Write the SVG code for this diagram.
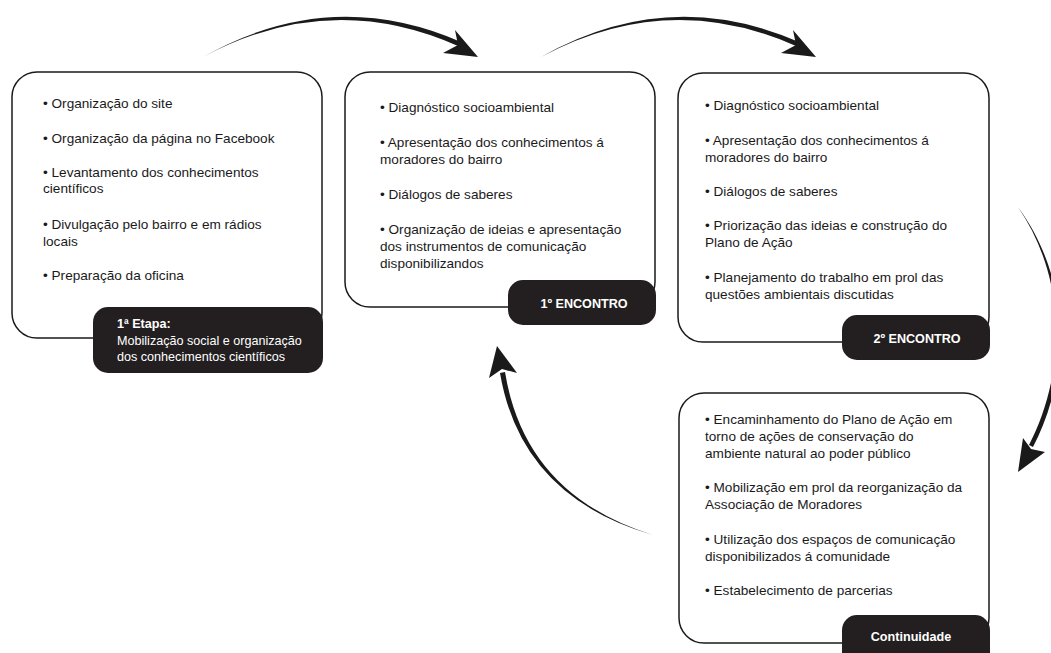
<svg xmlns="http://www.w3.org/2000/svg" width="1051" height="653" viewBox="0 0 1051 653">
<style>
.box{fill:#fff;stroke:#1a1a1a;stroke-width:1.5}
.tag{fill:#231f20}
.t{font-family:"Liberation Sans",Arial,sans-serif;font-size:13.6px;fill:#1a1a1a}
.lb{font-family:"Liberation Sans",Arial,sans-serif;font-size:12.6px;fill:#fff}
.b{font-weight:bold}
.arr{fill:#1a1a1a}
</style>
<rect width="1051" height="653" fill="#fff"/>
<g id="connectors">
<path class="arr" d="M203,57 Q330,-15 461,42 L458,46 Q330,-11 203,57 Z"/>
<polygon class="arr" points="478,57 455,30 458,45 443,53"/>
<path class="arr" d="M541,57 Q668,-15 799,42 L796,46 Q668,-11 541,57 Z"/>
<polygon class="arr" points="816,57 793,30 796,45 781,53"/>
<path class="arr" d="M1018,207 C1075,285 1068,380 1033,447 L1029,445 C1063,380 1071,285 1018,207 Z"/>
<polygon class="arr" points="1018,472 1023,438 1031,449 1045,452"/>
<path class="arr" d="M653,535 Q525,495 505,372 L500,373 Q521,497 653,535 Z"/>
<polygon class="arr" points="497,346 517,373 502,369 489,378"/>
</g>
<g id="etapa1">
<rect class="box" x="12" y="72" width="310" height="266" rx="25"/>
<rect class="tag" x="93" y="307" width="230" height="66" rx="15"/>
<text class="t" x="43" y="108">• Organização do site</text>
<text class="t" x="43" y="143">• Organização da página no Facebook</text>
<text class="t" x="43" y="177">• Levantamento dos conhecimentos</text>
<text class="t" x="43" y="193">científicos</text>
<text class="t" x="43" y="229">• Divulgação pelo bairro e em rádios</text>
<text class="t" x="43" y="246">locais</text>
<text class="t" x="43" y="280">• Preparação da oficina</text>
<text class="lb b" x="117" y="328">1ª Etapa:</text>
<text class="lb" x="117" y="345">Mobilização social e organização</text>
<text class="lb" x="117" y="361">dos conhecimentos científicos</text>
</g>
<g id="encontro1">
<rect class="box" x="345" y="72" width="310" height="235" rx="25"/>
<rect class="tag" x="508" y="280" width="148" height="45" rx="15"/>
<text class="t" x="380" y="112">• Diagnóstico socioambiental</text>
<text class="t" x="380" y="147">• Apresentação dos conhecimentos á</text>
<text class="t" x="380" y="164">moradores do bairro</text>
<text class="t" x="380" y="199">• Diálogos de saberes</text>
<text class="t" x="380" y="234">• Organização de ideias e apresentação</text>
<text class="t" x="380" y="251">dos instrumentos de comunicação</text>
<text class="t" x="380" y="268">disponibilizandos</text>
<text class="lb b" x="584" y="308" text-anchor="middle">1º ENCONTRO</text>
</g>
<g id="encontro2">
<rect class="box" x="678" y="73" width="311" height="269" rx="25"/>
<rect class="tag" x="842" y="315" width="148" height="45" rx="15"/>
<text class="t" x="705" y="110">• Diagnóstico socioambiental</text>
<text class="t" x="705" y="145">• Apresentação dos conhecimentos á</text>
<text class="t" x="705" y="162">moradores do bairro</text>
<text class="t" x="705" y="196">• Diálogos de saberes</text>
<text class="t" x="705" y="230">• Priorização das ideias e construção do</text>
<text class="t" x="705" y="247">Plano de Ação</text>
<text class="t" x="705" y="282">• Planejamento do trabalho em prol das</text>
<text class="t" x="705" y="299">questões ambientais discutidas</text>
<text class="lb b" x="917" y="343" text-anchor="middle">2º ENCONTRO</text>
</g>
<g id="continuidade">
<rect class="box" x="679" y="393" width="310" height="250" rx="25"/>
<rect class="tag" x="842" y="615" width="148" height="55" rx="15"/>
<text class="t" x="705" y="424">• Encaminhamento do Plano de Ação em</text>
<text class="t" x="705" y="441">torno de ações de conservação do</text>
<text class="t" x="705" y="458">ambiente natural ao poder público</text>
<text class="t" x="705" y="492">• Mobilização em prol da reorganização da</text>
<text class="t" x="705" y="509">Associação de Moradores</text>
<text class="t" x="705" y="544">• Utilização dos espaços de comunicação</text>
<text class="t" x="705" y="561">disponibilizados á comunidade</text>
<text class="t" x="705" y="595">• Estabelecimento de parcerias</text>
<text class="lb b" x="911" y="641" text-anchor="middle">Continuidade</text>
</g>
</svg>
